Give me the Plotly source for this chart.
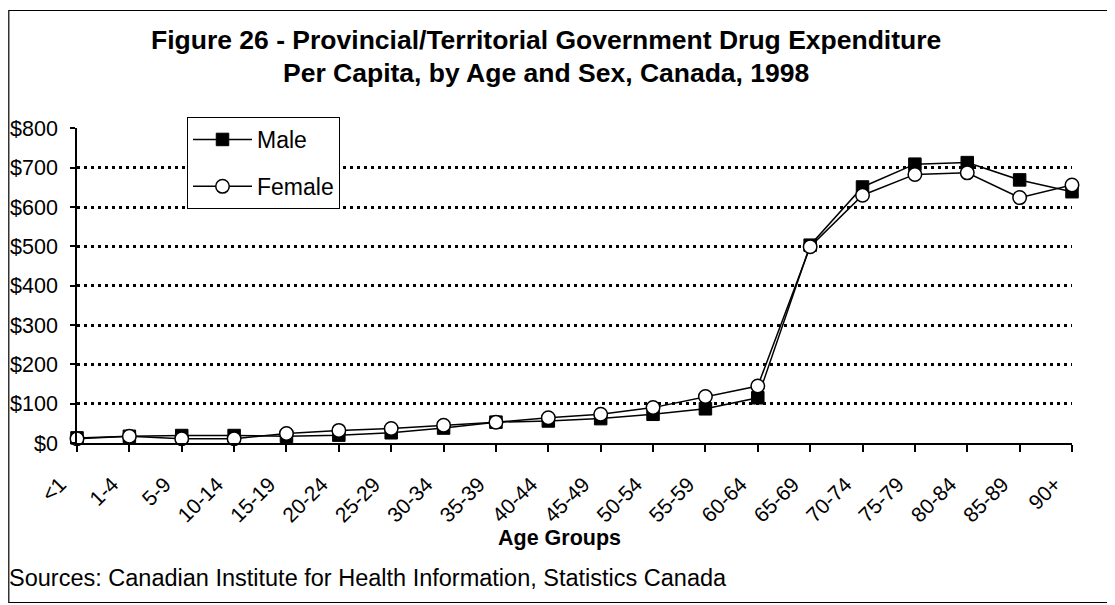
import plotly.graph_objects as go

age_groups = ["<1", "1-4", "5-9", "10-14", "15-19", "20-24", "25-29", "30-34", "35-39",
              "40-44", "45-49", "50-54", "55-59", "60-64", "65-69", "70-74", "75-79",
              "80-84", "85-89", "90+"]
male = [13, 17, 19, 19, 17, 20, 26, 38, 53, 56, 62, 73, 87, 115, 503, 651, 709, 713, 669, 639]
female = [11, 17, 11, 11, 24, 32, 37, 45, 53, 64, 73, 90, 118, 145, 499, 630, 683, 687, 624, 656]
y_ticks = [0, 100, 200, 300, 400, 500, 600, 700, 800]
y_tick_labels = ["$" + str(v) for v in y_ticks]

FONT = "Liberation Sans, Arial, sans-serif"

# the page puts the figure 8px in from the top-left corner
OFF = 8
W, H = 1115 - OFF, 605 - OFF
L = 77 - OFF
T = 128 - OFF
R = W - (1072 - OFF)
B = H - (443 - OFF)
PW, PH = W - L - R, H - T - B


def px_x(x):  # reference pixel -> paper x
    return (x - OFF - L) / PW


def px_y(y):  # reference pixel -> paper y
    return (H - B - (y - OFF)) / PH


fig = go.Figure()
fig.add_trace(go.Scatter(
    x=age_groups, y=male, name="Male", mode="lines+markers",
    line=dict(color="black", width=1.5),
    marker=dict(symbol="square", size=12.5, color="black", line=dict(color="black", width=1)),
    cliponaxis=False, legendgroup="m",
))
fig.add_trace(go.Scatter(
    x=age_groups, y=female, name="Female", mode="lines+markers",
    line=dict(color="black", width=1.5),
    marker=dict(symbol="circle", size=13.5, color="white", line=dict(color="black", width=1.5)),
    cliponaxis=False, legendgroup="f",
))

fig.update_layout(
    width=W, height=H, autosize=False,
    margin=dict(l=L, r=R, t=T, b=B, pad=0, autoexpand=False),
    paper_bgcolor="white", plot_bgcolor="white",
    font=dict(family=FONT, size=21, color="black"),
    showlegend=True,
    legend=dict(
        x=px_x(187), y=px_y(117), xanchor="left", yanchor="top",
        bgcolor="white", bordercolor="black", borderwidth=1,
        font=dict(family=FONT, size=23, color="black"),
        tracegroupgap=14, itemwidth=59,
    ),
    xaxis=dict(
        type="category", range=[0, len(age_groups) - 1], automargin=False,
        showgrid=False, showline=True, linecolor="black", linewidth=1.5,
        ticks="outside", ticklen=7, tickcolor="black", tickwidth=1.5,
        tickangle=-45, dtick=1, zeroline=False,
        ticklabelshift=-17, ticklabelstandoff=12,
        tickfont=dict(family=FONT, size=21, color="black"),
    ),
    yaxis=dict(
        range=[0, 801], tickmode="array", tickvals=y_ticks, ticktext=y_tick_labels,
        automargin=False,
        showgrid=True, gridcolor="black", gridwidth=2.5, griddash="3px,4px",
        showline=True, linecolor="black", linewidth=1.5,
        ticks="outside", ticklen=5, tickcolor="black", tickwidth=1.5,
        zeroline=False, ticklabelstandoff=8,
        tickfont=dict(family=FONT, size=21.5, color="black"),
    ),
)

fig.add_annotation(
    text="<b>Figure 26 - Provincial/Territorial Government Drug Expenditure</b>",
    xref="paper", yref="paper", x=px_x(546), y=px_y(40),
    xanchor="center", yanchor="middle", showarrow=False,
    font=dict(family=FONT, size=26.5, color="black"),
)
fig.add_annotation(
    text="<b>Per Capita, by Age and Sex, Canada, 1998</b>",
    xref="paper", yref="paper", x=px_x(546), y=px_y(73),
    xanchor="center", yanchor="middle", showarrow=False,
    font=dict(family=FONT, size=26.5, color="black"),
)
fig.add_annotation(
    text="<b>Age Groups</b>",
    xref="paper", yref="paper", x=px_x(559), y=px_y(538),
    xanchor="center", yanchor="middle", showarrow=False,
    font=dict(family=FONT, size=21.5, color="black"),
)
fig.add_annotation(
    text="Sources: Canadian Institute for Health Information, Statistics Canada",
    xref="paper", yref="paper", x=px_x(7), y=px_y(578),
    xanchor="left", yanchor="middle", showarrow=False,
    font=dict(family=FONT, size=23.5, color="black"),
)

fig.add_shape(
    type="rect", xref="paper", yref="paper",
    x0=px_x(OFF + 0.8), x1=px_x(1113.5), y0=px_y(602.5), y1=px_y(10.5),
    line=dict(color="black", width=1.2), fillcolor="rgba(0,0,0,0)", layer="above",
)

fig.write_html("out.html")
